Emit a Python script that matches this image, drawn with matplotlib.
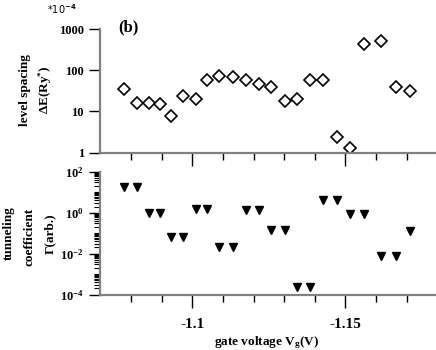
import matplotlib
matplotlib.use("Agg")
import matplotlib.pyplot as plt
import numpy as np
from matplotlib.ticker import FixedLocator, NullFormatter, FixedFormatter

plt.rcParams['font.family'] = ['Liberation Serif', 'DejaVu Serif']
plt.rcParams['font.weight'] = 'bold'
plt.rcParams['mathtext.fontset'] = 'custom'
plt.rcParams['mathtext.rm'] = 'Liberation Serif:bold'
plt.rcParams['mathtext.bf'] = 'Liberation Serif:bold'
plt.rcParams['mathtext.it'] = 'Liberation Serif:bold:italic'

# gate voltage (V)
vg = [-1.0778, -1.0820, -1.0858, -1.0894, -1.0931, -1.0970, -1.1011, -1.1049,
      -1.1088, -1.1132, -1.1175, -1.1216, -1.1258, -1.1301, -1.1342, -1.1385,
      -1.1427, -1.1473, -1.1516, -1.1562, -1.1617, -1.1666, -1.1712]
# level spacing (x 1e-4 Ry*)
level_spacing = [34.6, 15.8, 16.4, 15.0, 7.9, 23.8, 19.8, 57.2, 71.5, 67.6, 58.2,
                 47.3, 38.7, 18.3, 19.8, 57.2, 59.1, 2.44, 1.28, 428, 523, 38.7, 32.0]
# tunneling coefficient (arb.)
gamma = [17.2, 17.2, 1.0, 1.0, 0.0676, 0.0676, 1.58, 1.58, 0.0217, 0.0217,
         1.41, 1.41, 0.145, 0.145, 2.4e-4, 2.4e-4, 4.39, 4.39, 0.82, 0.82,
         0.0078, 0.0078, 0.134]

W, H = 436, 350
fig = plt.figure(figsize=(W/100, H/100), dpi=100)

def fx(px): return px / W
def fy(py): return 1 - py / H

ax1 = fig.add_axes([fx(100), fy(152.7), fx(436) - fx(100), fy(29) - fy(152.7)])
ax2 = fig.add_axes([fx(100), fy(294.5), fx(436) - fx(100), fy(171.8) - fy(294.5)])

spine_c = '#808080'
xlim = (-1.0698, -1.1796)
xmaj = [-1.10, -1.15]
xmin = [round(-1.07 - 0.01 * i, 2) for i in range(1, 12) if round(-1.07 - 0.01 * i, 2) not in (-1.10, -1.15)]

for ax in (ax1, ax2):
    ax.set_yscale('log')
    ax.set_xlim(*xlim)
    for s in ('top', 'right'):
        ax.spines[s].set_visible(False)
    for s in ('left', 'bottom'):
        ax.spines[s].set_color(spine_c)
        ax.spines[s].set_linewidth(1.6)
    ax.xaxis.set_major_locator(FixedLocator(xmaj))
    ax.xaxis.set_minor_locator(FixedLocator(xmin))
    ax.tick_params(axis='x', which='major', direction='out', length=9, width=1, color='black')
    ax.tick_params(axis='x', which='minor', direction='out', length=5, width=1, color='black')
    ax.tick_params(axis='y', which='major', direction='out', length=8, width=1, color='black', labelsize=9)
    ax.tick_params(axis='y', which='minor', direction='out', length=4, width=0.8, color='black')
    ax.patch.set_alpha(0)

# top panel
ax1.plot(vg, level_spacing, linestyle='none', marker='D', markersize=6.5,
         markerfacecolor='white', markeredgecolor='black', markeredgewidth=1.2)
ax1.set_ylim(1, 1000)
ax1.yaxis.set_major_locator(FixedLocator([1, 10, 100, 1000]))
ax1.yaxis.set_major_formatter(FixedFormatter(['1', '10', '100', '1000']))
ax1.yaxis.set_minor_locator(FixedLocator([]))
ax1.set_xticklabels([])

# bottom panel
ax2.plot(vg, gamma, linestyle='none', marker='v', markersize=6,
         markerfacecolor='black', markeredgecolor='black')
ax2.set_ylim(1e-4, 1e2)
ax2.yaxis.set_major_locator(FixedLocator([1e-4, 1e-2, 1, 1e2]))
ax2.yaxis.set_major_formatter(FixedFormatter([r'$\mathbf{10^{-4}}$', r'$\mathbf{10^{-2}}$',
                                              r'$\mathbf{10^{0}}$', r'$\mathbf{10^{2}}$']))
minors = []
for d in range(-4, 2):
    for s in range(1, 10):
        v = s * 10.0 ** d
        if s == 1 and d % 2 == 0:
            continue
        minors.append(v)
ax2.yaxis.set_minor_locator(FixedLocator(minors))
ax2.yaxis.set_minor_formatter(NullFormatter())
ax2.set_xticklabels(['-1.1', '-1.15'])
ax2.tick_params(axis='x', which='major', pad=8, labelsize=11)

for ax in (ax1, ax2):
    for lab in ax.get_yticklabels() + ax.get_xticklabels():
        lab.set_fontweight('bold')

# texts
fig.text(fx(118), fy(27), '(b)', fontsize=12, fontweight='bold', ha='left', va='center')
fig.text(fx(62), fy(9), '*10$^{-4}$', fontsize=7, ha='center', va='center',
         family='DejaVu Sans', fontweight='normal', math_fontfamily='dejavusans')
fig.text(fx(25), fy(90), 'level spacing', rotation=90, fontsize=9.5, fontweight='bold',
         ha='center', va='center')
fig.text(fx(45), fy(90), r'ΔE(Ry$^{*}$)', rotation=90, fontsize=9.5, fontweight='bold',
         ha='center', va='center')
fig.text(fx(9), fy(233), 'tunneling', rotation=90, fontsize=9.5, fontweight='bold',
         ha='center', va='center')
fig.text(fx(29), fy(237), 'coefficient', rotation=90, fontsize=9.5, fontweight='bold',
         ha='center', va='center')
fig.text(fx(50), fy(234), 'Γ(arb.)', rotation=90, fontsize=9.5, fontweight='bold',
         ha='center', va='center')
fig.text(fx(267), fy(343), r'gate voltage V$_\mathrm{g}$(V)', fontsize=9.5, fontweight='bold',
         ha='center', va='center')

fig.savefig('out.png', dpi=100)
